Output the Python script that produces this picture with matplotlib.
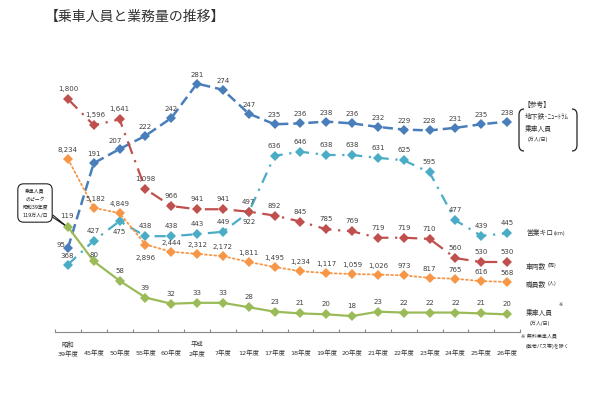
import matplotlib
matplotlib.use('Agg')
import matplotlib.pyplot as plt
from matplotlib.path import Path
from matplotlib.patches import PathPatch

plt.rcParams['font.family'] = ['DejaVu Sans', 'Noto Sans CJK JP']

# fiscal years
years = ['39年度', '45年度', '50年度', '55年度', '60年度', '2年度', '7年度', '12年度',
         '17年度', '18年度', '19年度', '20年度', '21年度', '22年度', '23年度',
         '24年度', '25年度', '26年度']
era = {0: '昭和', 5: '平成'}

# 地下鉄・ニュートラム 乗車人員 (万人/日)
subway = [95, 191, 207, 222, 242, 281, 274, 247, 235, 236, 238, 236, 232, 229, 228, 231, 235, 238]
# 営業キロ (km)
route_km = [368, 427, 475, 438, 438, 443, 449, 497, 636, 646, 638, 638, 631, 625, 595, 477, 439, 445]
# 車両数 (両)
vehicles = [1800, 1596, 1641, 1098, 966, 941, 941, 922, 892, 845, 785, 769, 719, 719, 710, 560, 530, 530]
# 職員数 (人)
staff = [8234, 5182, 4849, 2896, 2444, 2312, 2172, 1811, 1495, 1234, 1117, 1059, 1026, 973, 817, 765, 616, 568]
# 乗車人員 (万人/日)
riders = [119, 80, 58, 39, 32, 33, 33, 28, 23, 21, 20, 18, 23, 22, 22, 22, 21, 20]

W, H = 610, 393
fig = plt.figure(figsize=(W / 100, H / 100), dpi=100)


def fp(x, y):
    # pixel position (from top-left) -> figure fraction
    return x / W, 1 - y / H


ax = fig.add_axes([55 / W, (H - 332) / H, 465 / W, 272 / H])
x = list(range(len(years)))
ax.set_xlim(-0.5, len(years) - 0.5)

# each series gets its own hidden scale, like the original drawing
series = [
    # values, color, lw, dashes, ylim, default label offset(px), label overrides
    (subway, '#4A7EBB', 1.8, (4, 2), (0, 307.7), 9, {0: (-7, 3), 2: (-4, 8)}),
    (route_km, '#4BACC6', 1.6, (5, 3, 1, 3), (202, 872), 10, {0: (-1, 9), 2: (0, -11)}),
    (vehicles, '#C0504D', 1.6, (6, 3, 1, 3), (-15.6, 2104), 10, {1: (2, 10), 7: (0, -10)}),
    (staff, '#F79646', 1.3, (1, 1.6), (-2554, 14393), 9, {1: (2, 9), 3: (0, -13)}),
    (riders, '#9BBB59', 1.6, None, (0, 307.7), 10, {0: (-1, 11), 1: (0, 6)}),
]

for vals, color, lw, dash, ylim, off, over in series:
    a = ax.twinx()
    a.set_ylim(*ylim)
    a.set_xlim(-0.5, len(years) - 0.5)
    a.axis('off')
    line, = a.plot(x, vals, color=color, lw=lw, marker='D', markersize=5.3,
                   markeredgewidth=0, solid_capstyle='round')
    if dash is not None:
        line.set_dashes(dash)
        if dash == (1, 1.6):
            line.set_dash_capstyle('round')
    for i, v in enumerate(vals):
        dx, dy = over.get(i, (0, off))
        a.annotate(f'{v:,}', (i, v), xytext=(dx * 0.72, dy * 0.72),
                   textcoords='offset points', ha='center', va='center',
                   fontsize=5, color='#404040')

ax.set_ylim(0, 1)
ax.set_yticks([])
for s in ['top', 'right', 'left']:
    ax.spines[s].set_visible(False)
ax.spines['bottom'].set_color('#888888')
ax.spines['bottom'].set_linewidth(0.8)
ax.set_xticks([i - 0.5 for i in range(len(years) + 1)])
ax.set_xticklabels([])
ax.tick_params(axis='x', which='major', direction='in', length=2.5, color='#888888')
ax.set_xticks(x, minor=True)
ax.set_xticklabels([era.get(i, '') + '\n' + y for i, y in enumerate(years)], minor=True,
                   fontsize=4.6, color='#333333', linespacing=1.6)
ax.tick_params(axis='x', which='minor', length=0, pad=6.5)

# title
fig.text(*fp(45, 17), '【乗車人員と業務量の推移】', fontsize=10, color='#333333',
         ha='left', va='center', family=['Noto Sans CJK JP'])

# reference legend with bracket
small = dict(fontsize=4.9, color='#333333', ha='left', va='center')
tiny = dict(fontsize=3.6, color='#333333', ha='left', va='center')
fig.text(*fp(524, 104), '【参考】', **small)
fig.text(*fp(525, 116), '地下鉄･ﾆｭｰﾄﾗﾑ', **small)
fig.text(*fp(525, 128), '乗車人員', **small)
fig.text(*fp(528, 139), '(万人/日)', **tiny)

for verts in ([fp(524, 109), fp(519, 109), fp(519, 115), fp(519, 145), fp(519, 151), fp(524, 151)],
              [fp(572, 109), fp(577, 109), fp(577, 115), fp(577, 145), fp(577, 151), fp(572, 151)]):
    codes = [Path.MOVETO, Path.CURVE3, Path.CURVE3, Path.LINETO, Path.CURVE3, Path.CURVE3]
    fig.add_artist(PathPatch(Path(verts, codes), fill=False, lw=0.9, ec='#222222',
                             transform=fig.transFigure))

# series names on the right
fig.text(*fp(526, 233), '営業キロ', **small)
fig.text(*fp(554, 234), '(km)', **tiny)
fig.text(*fp(526, 266), '車両数', **small)
fig.text(*fp(548, 266), '(両)', **tiny)
fig.text(*fp(526, 284), '職員数', **small)
fig.text(*fp(548, 284), '(人)', **tiny)
fig.text(*fp(526, 312), '乗車人員', **small)
fig.text(*fp(559, 304), '※', **tiny)
fig.text(*fp(530, 323), '(万人/日)', **tiny)
fig.text(*fp(521, 337), '※ 無料乗車人員', **tiny)
fig.text(*fp(526, 346), '(敬老パス等)を除く', **tiny)

# peak callout
ax.annotate('乗車人員\nのピーク\n昭和39年度\n119万人/日', xy=fp(66, 226), xycoords='figure fraction',
            xytext=fp(35, 203), textcoords='figure fraction',
            fontsize=3.5, color='#222222', ha='center', va='center', linespacing=1.8,
            bbox=dict(boxstyle='round,pad=0.9,rounding_size=1.2', fc='white', ec='#222222', lw=0.8),
            arrowprops=dict(arrowstyle='wedge,tail_width=0.4', fc='white', ec='#222222', lw=0.8,
                            shrinkA=0, shrinkB=0))

fig.savefig('out.png', dpi=100)
